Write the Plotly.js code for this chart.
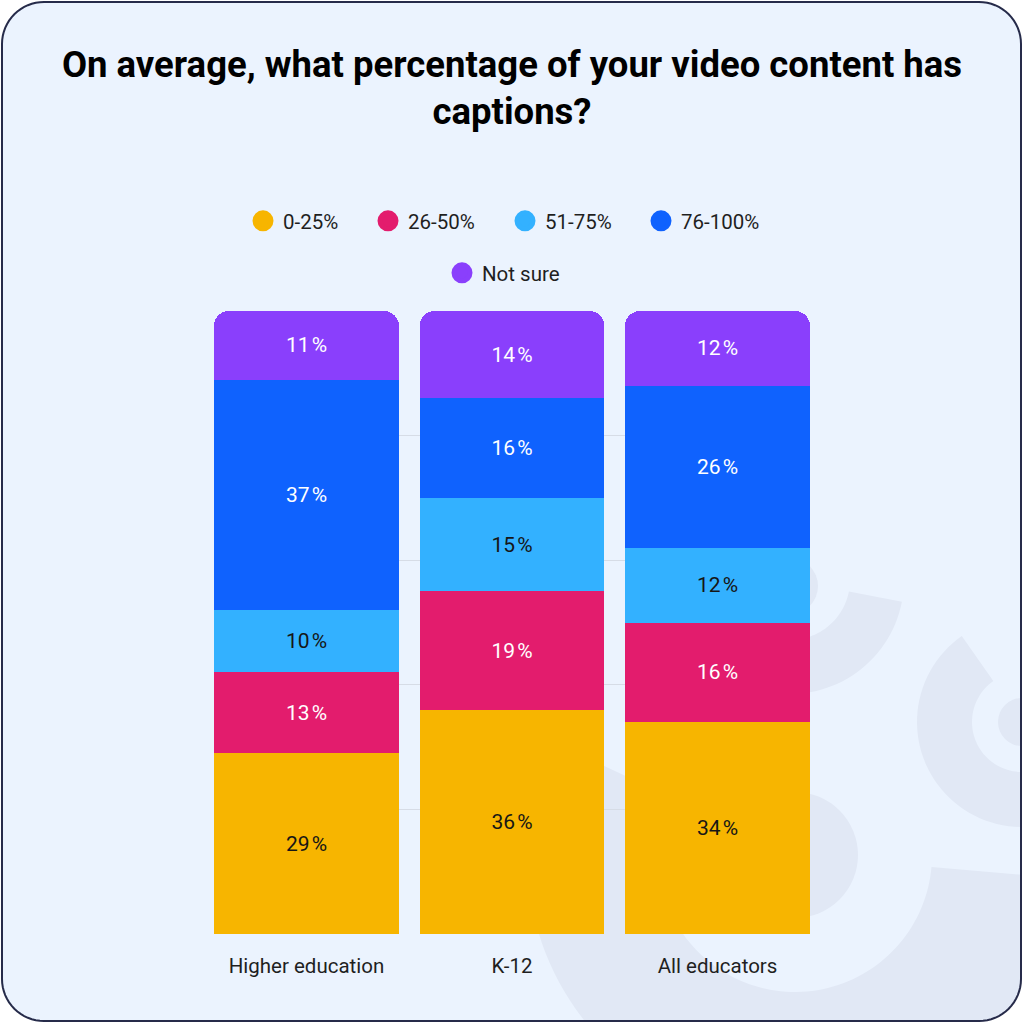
<!DOCTYPE html>
<html><head><meta charset="utf-8">
<script src="https://cdn.plot.ly/plotly-3.0.1.min.js"></script>
<style>html,body{margin:0;padding:0;background:#fff}#chart{width:1024px;height:1024px}</style>
</head><body><div id="chart"></div>
<script>
// ---- data ----
const categories = ['Higher education', 'K-12', 'All educators'];
const seriesNames = ['0-25%', '26-50%', '51-75%', '76-100%', 'Not sure'];
const pct0to25 = [29, 36, 34];
const pct26to50 = [13, 19, 16];
const pct51to75 = [10, 15, 12];
const pct76to100 = [37, 16, 26];
const pctNotSure = [11, 14, 12];
const seriesValues = [pct0to25, pct26to50, pct51to75, pct76to100, pctNotSure];
const yTicks = [0, 20, 40, 60, 80, 100];

// ---- styles ----
const seriesColors = ['#F7B500', '#E31C6D', '#33B1FF', '#0F62FE', '#8A3FFC'];
const labelColors = ['#161616', '#FFFFFF', '#161616', '#FFFFFF', '#FFFFFF'];
const legendWidths = [80, 92, 91, 80, 80];
const legendIds = ['legend', 'legend', 'legend', 'legend', 'legend2'];
const FONT = 'Roboto, "Open Sans", sans-serif';

const traces = [];
seriesValues.forEach((vals, i) => {
  traces.push({
    type: 'bar', name: seriesNames[i], x: categories, y: vals,
    marker: {color: seriesColors[i], line: {width: 0}},
    texttemplate: '%{y}\u200A%', textposition: 'inside', insidetextanchor: 'middle',
    textangle: 0, constraintext: 'none',
    insidetextfont: {family: FONT, size: 21, color: labelColors[i]},
    showlegend: false, hoverinfo: 'skip'
  });
});
seriesValues.forEach((vals, i) => {
  traces.push({
    type: 'scatter', mode: 'markers', name: seriesNames[i],
    x: [categories[0]], y: [null],
    marker: {color: seriesColors[i], size: 16, symbol: 'circle', line: {width: 5, color: seriesColors[i]}},
    legend: legendIds[i], legendwidth: legendWidths[i], hoverinfo: 'skip'
  });
});

// ---- decorative card background (pixel helpers) ----
const L = 214, R = 810, T = 311, B = 934;
const toX = px => (px - L) / (R - L);
const toY = py => (B - py) / (B - T);
function pathOf(pts) {
  return pts.map((p, i) => (i ? 'L' : 'M') + toX(p[0]).toFixed(5) + ',' + toY(p[1]).toFixed(5)).join(' ') + ' Z';
}
function roundRectPts(x0, y0, x1, y1, r) {
  const pts = [];
  const cs = [[x1 - r, y0 + r, -90], [x1 - r, y1 - r, 0], [x0 + r, y1 - r, 90], [x0 + r, y0 + r, 180]];
  cs.forEach(([cx, cy, a0]) => {
    for (let k = 0; k <= 16; k++) {
      const a = (a0 + k * 90 / 16) * Math.PI / 180;
      pts.push([cx + r * Math.cos(a), cy + r * Math.sin(a)]);
    }
  });
  return pts;
}
function ringPts(cx, cy, r1, r2, a0, a1) {
  const n = 90, pts = [];
  for (let k = 0; k <= n; k++) { const a = (a0 + (a1 - a0) * k / n) * Math.PI / 180; pts.push([cx + r2 * Math.cos(a), cy + r2 * Math.sin(a)]); }
  for (let k = n; k >= 0; k--) { const a = (a0 + (a1 - a0) * k / n) * Math.PI / 180; pts.push([cx + r1 * Math.cos(a), cy + r1 * Math.sin(a)]); }
  return pts;
}
const DECO = '#E1E8F5';
function pathShape(path, fill, extra) {
  return Object.assign({type: 'path', xref: 'paper', yref: 'paper', path: path, fillcolor: fill, line: {width: 0}, layer: 'below'}, extra || {});
}
function circleShape(cx, cy, r) {
  return {type: 'circle', xref: 'paper', yref: 'paper', x0: toX(cx - r), x1: toX(cx + r), y0: toY(cy + r), y1: toY(cy - r),
    fillcolor: DECO, line: {width: 0}, layer: 'below'};
}
const card = roundRectPts(2, 2, 1021, 1021, 42);
const shapes = [
  pathShape(pathOf(card), '#EBF3FE'),
  pathShape(pathOf(ringPts(795, 855, 137, 268, 5, 205)), DECO),
  circleShape(795, 855, 63),
  pathShape(pathOf(ringPts(790, 580, 60, 114, 11, 270)), DECO),
  circleShape(790, 586, 28),
  pathShape(pathOf(ringPts(1022, 722, 50, 105, -60, 235)), DECO),
  circleShape(1022, 722, 24),
  pathShape(pathOf([[-20, -20], [1044, -20], [1044, 1044], [-20, 1044]]) + ' ' + pathOf(card), '#FFFFFF', {fillrule: 'evenodd'}),
  {type: 'path', xref: 'paper', yref: 'paper', path: pathOf(card), line: {color: '#262B4A', width: 2}, fillcolor: 'rgba(0,0,0,0)', layer: 'below'}
];

const legendCommon = {
  orientation: 'h', xref: 'container', yref: 'container', xanchor: 'left', yanchor: 'middle',
  font: {family: FONT, size: 20.5, color: '#1F1F1F'}, bgcolor: 'rgba(0,0,0,0)', borderwidth: 0,
  traceorder: 'normal', itemclick: false, itemdoubleclick: false
};

const layout = {
  width: 1024, height: 1024,
  margin: {l: L, r: 1024 - R, t: T, b: 1024 - B, pad: 0},
  paper_bgcolor: '#FFFFFF', plot_bgcolor: 'rgba(0,0,0,0)',
  font: {family: FONT, color: '#1F1F1F'},
  title: {
    text: 'On average, what percentage of your video content has<br>captions?',
    font: {family: FONT, size: 36.5, color: '#000000', weight: 700},
    x: 0.5, xref: 'container', xanchor: 'center', y: 1 - 77 / 1024, yref: 'container', yanchor: 'middle'
  },
  barmode: 'stack', bargap: 0.1, barcornerradius: 15,
  xaxis: {
    type: 'category', categoryorder: 'array', categoryarray: categories, range: [-0.45, 2.45],
    showgrid: false, zeroline: false, showline: false, ticks: '', ticklabelstandoff: 17,
    tickfont: {family: FONT, size: 20.5, color: '#1F1F1F'}, fixedrange: true
  },
  yaxis: {
    range: [0, 100], tickvals: yTicks, showticklabels: false, showgrid: true,
    gridcolor: '#D6DCE6', gridwidth: 1, zeroline: false, showline: false, fixedrange: true
  },
  legend: Object.assign({}, legendCommon, {x: 243 / 1024, y: 1 - 221 / 1024}),
  legend2: Object.assign({}, legendCommon, {x: 442 / 1024, y: 1 - 273 / 1024}),
  shapes: shapes,
  showlegend: true
};

Plotly.newPlot('chart', traces, layout, {displayModeBar: false, staticPlot: true});
</script>
</body></html>
